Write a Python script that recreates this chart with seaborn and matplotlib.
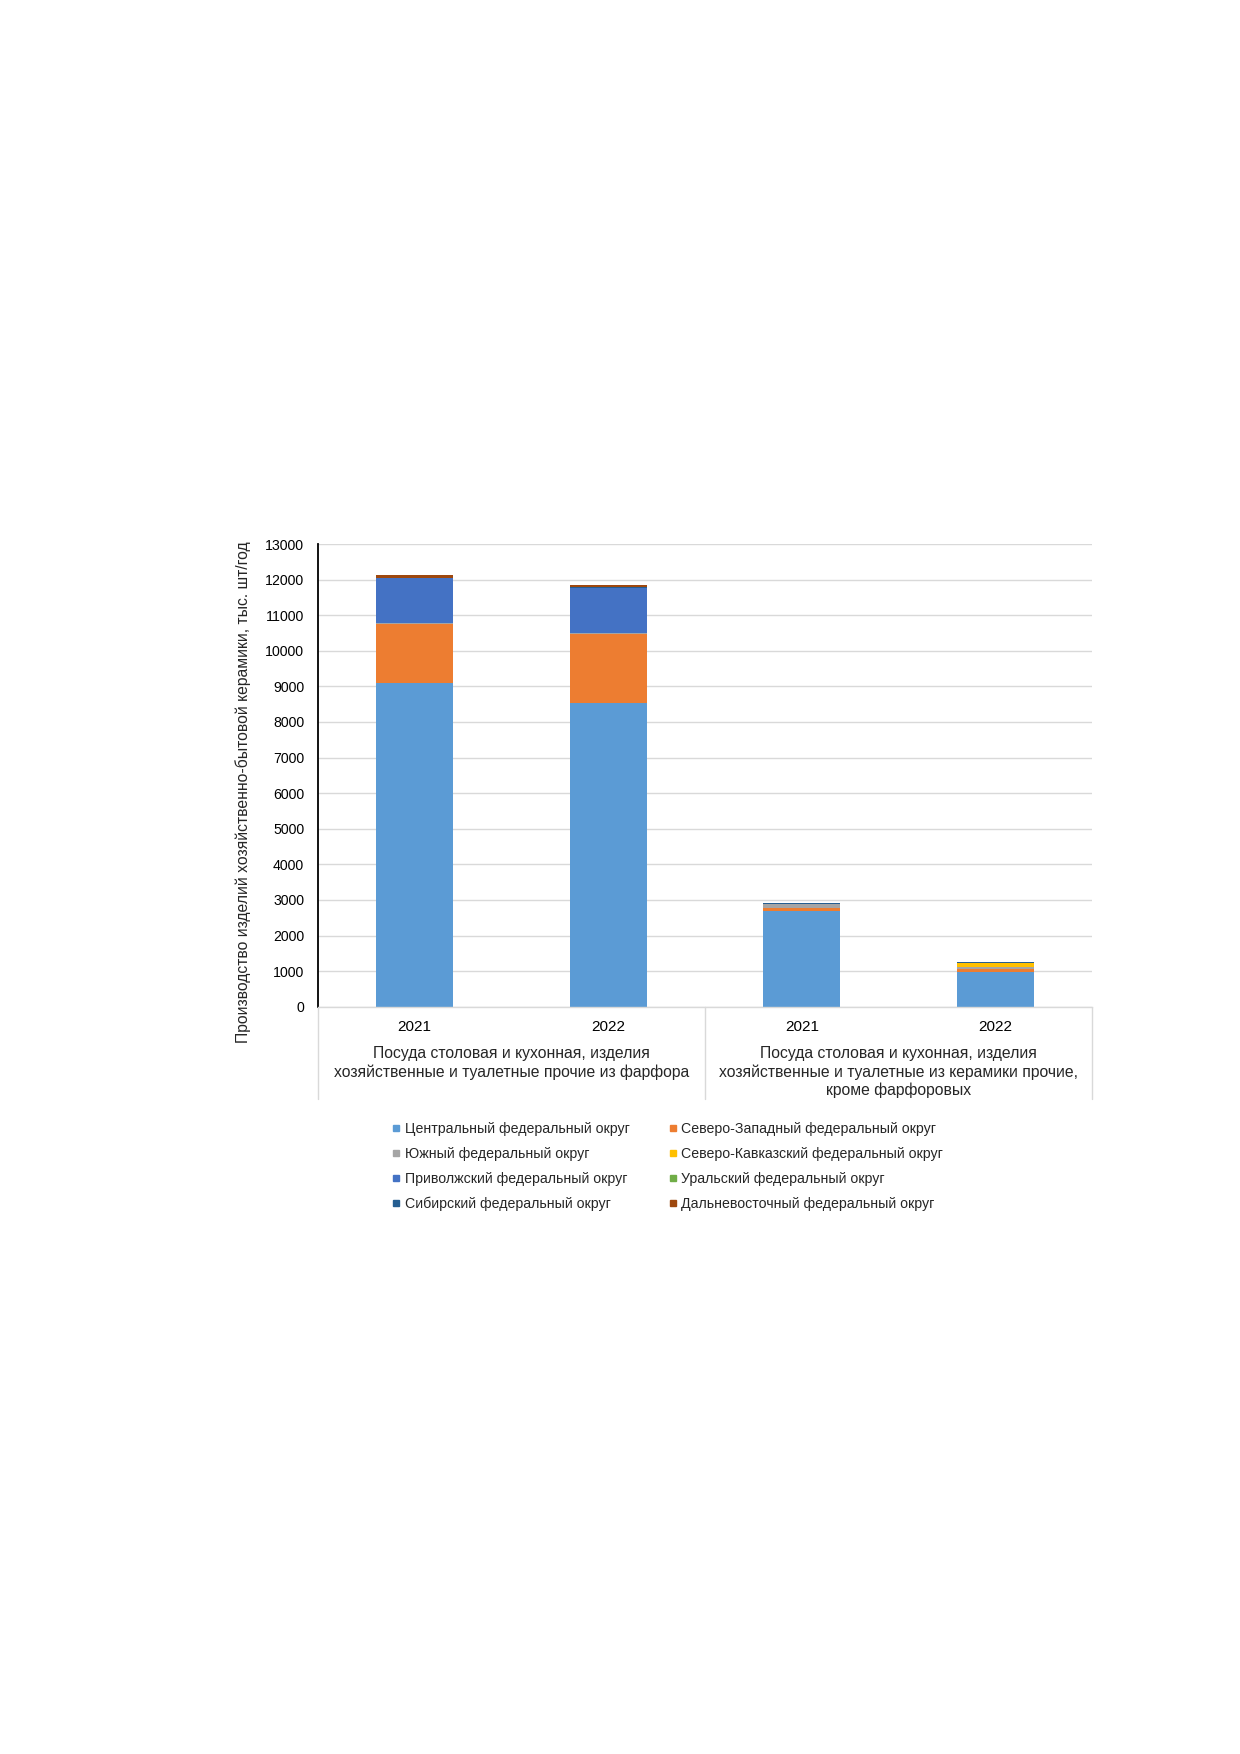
import numpy as np
import pandas as pd
import seaborn as sns
import matplotlib.pyplot as plt
from matplotlib.lines import Line2D
from matplotlib.transforms import blended_transform_factory


BARS = ['p2021', 'p2022', 'k2021', 'k2022']
YEARS = ['2021', '2022', '2021', '2022']
GROUPS = [
    'Посуда столовая и кухонная, изделия\nхозяйственные и туалетные прочие из фарфора',
    'Посуда столовая и кухонная, изделия\nхозяйственные и туалетные из керамики прочие,\nкроме фарфоровых',
]

DISTRICTS = [
    'Центральный федеральный округ',
    'Северо-Западный федеральный округ',
    'Южный федеральный округ',
    'Северо-Кавказский федеральный округ',
    'Приволжский федеральный округ',
    'Уральский федеральный округ',
    'Сибирский федеральный округ',
    'Дальневосточный федеральный округ',
]
COLORS = ['#5B9BD5', '#ED7D31', '#A5A5A5', '#FFC000',
          '#4472C4', '#70AD47', '#255E91', '#9E480E']

# values, thousand pcs per year
central = [9100, 8520, 2700, 966]
north_west = [1660, 1960, 80, 90]
south = [20, 20, 100, 50]
north_caucasus = [5, 5, 5, 110]
volga = [1250, 1260, 0, 0]
ural = [10, 10, 5, 20]
siberia = [10, 10, 15, 15]
far_east = [60, 65, 15, 15]

SERIES = [central, north_west, south, north_caucasus, volga, ural, siberia, far_east]

W, H = 1240, 1754


def main():
    sns.set_theme(style='white')
    plt.rcParams['font.family'] = ['Liberation Sans', 'DejaVu Sans']

    df = pd.DataFrame(np.array(SERIES).T, columns=DISTRICTS)
    df['bar'] = BARS
    cum = df[DISTRICTS].cumsum(axis=1)

    fig = plt.figure(figsize=(W / 100, H / 100), dpi=100)
    ax = fig.add_axes([318 / W, 1 - 1006.7 / H, (1092 - 318) / W, (1006.7 - 544) / H])

    # Stack by overplotting cumulative totals, top layer first
    for i in reversed(range(len(DISTRICTS))):
        sns.barplot(x=df['bar'], y=cum[DISTRICTS[i]], order=BARS, color=COLORS[i],
                    saturation=1, width=0.4, errorbar=None, linewidth=0, ax=ax)

    ax.set_ylim(0, 13000)
    ax.set_xlim(-0.5, 3.5)
    ax.set_yticks(range(0, 13001, 1000))
    ax.yaxis.grid(True, color='#D9D9D9', linewidth=1)
    ax.set_axisbelow(True)
    for s in ['top', 'right']:
        ax.spines[s].set_visible(False)
    ax.spines['left'].set_color('black')
    ax.spines['left'].set_linewidth(1.3)
    ax.spines['bottom'].set_color('#D9D9D9')
    ax.spines['bottom'].set_linewidth(1)

    ax.set_xticks(range(len(BARS)))
    ax.set_xticklabels(YEARS)
    ax.tick_params(axis='y', length=0, pad=10, labelsize=10.2, colors='black')
    ax.tick_params(axis='x', length=0, pad=9.5, labelsize=11, colors='black')
    ax.set_xlabel('')
    ax.set_ylabel('')

    # Multi-level category axis
    trans = blended_transform_factory(ax.transData, ax.transAxes)
    for xs in [-0.5, 1.5, 3.5]:
        ax.plot([xs, xs], [0, -0.2], transform=trans, color='#D9D9D9',
                linewidth=1, clip_on=False)
    for k, label in enumerate(GROUPS):
        ax.text(2 * k + 0.5, -0.086, label, transform=trans, ha='center', va='top',
                fontsize=11.3, linespacing=1.23)

    fig.text(243 / W, 1 - 792 / H, 'Производство изделий хозяйственно-бытовой керамики, тыс. шт/год',
             rotation=90, ha='center', va='center', fontsize=11.3)

    # Legend, row-major order in 2 columns
    handles = [Line2D([], [], marker='s', ls='', color=c, markersize=5) for c in COLORS]
    order = [0, 2, 4, 6, 1, 3, 5, 7]
    fig.legend([handles[i] for i in order], [DISTRICTS[i] for i in order],
               loc='upper left', bbox_to_anchor=(392 / W, 1 - 1122 / H), ncol=2,
               frameon=False, fontsize=10.2, handlelength=0.6, handletextpad=0.3,
               columnspacing=2.75, labelspacing=0.77, borderpad=0, borderaxespad=0)

    fig.savefig('out.png', dpi=100)
    plt.close(fig)


if __name__ == '__main__':
    main()
